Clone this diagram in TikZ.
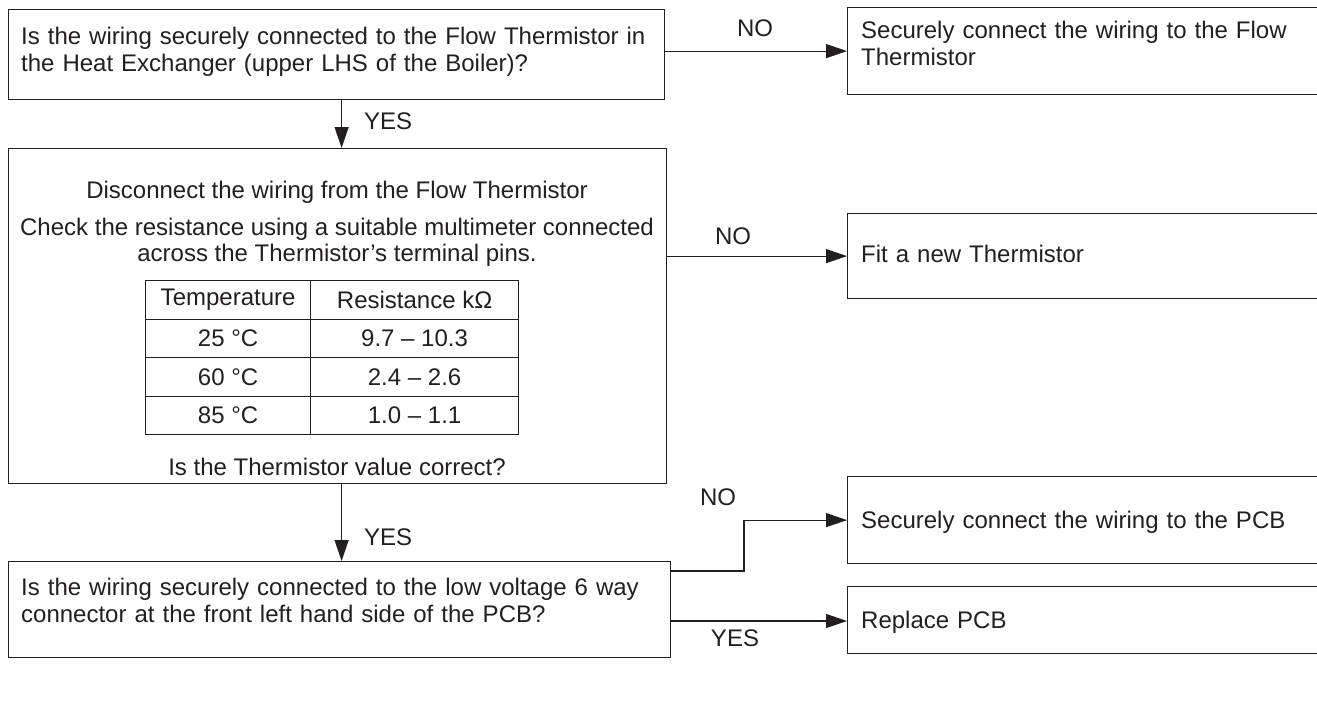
\documentclass[tikz,border=0pt]{standalone}
\usepackage{fontspec}
\setmainfont{Liberation Sans}
\usetikzlibrary{arrows.meta}
\definecolor{ink}{RGB}{35,31,32}
\begin{document}
\begin{tikzpicture}[x=1pt,y=-1pt,
  font=\fontsize{24}{27}\selectfont,
  every node/.style={text=ink},
  box/.style={draw=ink, line width=1.2pt, rectangle, inner sep=0pt, anchor=north west},
  txt/.style={inner sep=0pt, anchor=base west, align=left, text width=#1},
  txt/.default=700pt,
  cell/.style={draw=ink, line width=1.2pt, rectangle, inner sep=0pt, anchor=north west, minimum height=38.5pt},
  line/.style={draw=ink, line width=1.2pt},
  arr/.style={line, -{Triangle[length=21pt,width=14pt]}},
  lbl/.style={inner sep=0pt, anchor=base}]
\useasboundingbox (0,0) rectangle (1317,723);
\clip (0,0) rectangle (1317,723);

% left column
\node[box, minimum width=656pt, minimum height=90pt] (q1) at (8,9) {};
\node[txt] (q1t) at (21,44)
  {Is the wiring securely connected to the Flow Thermistor in\\the Heat Exchanger (upper LHS of the Boiler)?};
\node[box, minimum width=658pt, minimum height=335pt] (chk) at (8,148) {};
\node[lbl] (t1) at (337,198) {Disconnect the wiring from the Flow Thermistor};
\node[lbl] (t2) at (337,235) {Check the resistance using a suitable multimeter connected};
\node[lbl] (t3) at (337,261) {across the Thermistor’s terminal pins.};
\node[lbl] (t4) at (337,475) {Is the Thermistor value correct?};

% table
\node[cell, minimum width=165pt] (c11) at (145,280) {Temperature};
\node[cell, minimum width=208pt] (c12) at (310,280) {Resistance kΩ};
\node[cell, minimum width=165pt] (c21) at (145,318.5) {25 °C};
\node[cell, minimum width=208pt] (c22) at (310,318.5) {9.7 – 10.3};
\node[cell, minimum width=165pt] (c31) at (145,357) {60 °C};
\node[cell, minimum width=208pt] (c32) at (310,357) {2.4 – 2.6};
\node[cell, minimum width=165pt] (c41) at (145,395.5) {85 °C};
\node[cell, minimum width=208pt] (c42) at (310,395.5) {1.0 – 1.1};

\node[box, minimum width=662pt, minimum height=96pt] (q3) at (8,561) {};
\node[txt] (q3t) at (21,595)
  {Is the wiring securely connected to the low voltage 6 way\\connector at the front left hand side of the PCB?};

% right column
\node[box, minimum width=500pt, minimum height=87pt] (r1) at (847,7) {};
\node[txt=440pt] (r1t) at (861,38) {Securely connect the wiring to the Flow\\Thermistor};
\node[box, minimum width=500pt, minimum height=85pt] (r2) at (847,213) {};
\node[txt=440pt] (r2t) at (861,262) {Fit a new Thermistor};
\node[box, minimum width=500pt, minimum height=87pt] (r3) at (847,476) {};
\node[txt=440pt] (r3t) at (861,528) {Securely connect the wiring to the PCB};
\node[box, minimum width=500pt, minimum height=67pt] (r4) at (847,586) {};
\node[txt=440pt] (r4t) at (861,628) {Replace PCB};

% connectors
\draw[arr] ([xshift=5pt]q1.south) -- ([xshift=5pt]q1.south |- chk.north);
\node[lbl, anchor=base west] (y1) at (364,129) {YES};
\draw[arr] ([xshift=4pt]chk.south) -- ([xshift=4pt]chk.south |- q3.north);
\node[lbl, anchor=base west] (y2) at (364,545) {YES};

\draw[arr] (q1.east |- r1.west) -- (r1.west);
\node[lbl] (n1) at (755,36) {NO};
\draw[arr] (chk.east |- r2.west) -- (r2.west);
\node[lbl] (n2) at (733,244) {NO};

\coordinate (k1) at (744,571);
\draw[arr] (q3.east |- k1) -- (k1) |- (r3.west);
\node[lbl] (n3) at (718,505) {NO};
\coordinate (k2) at (847,621);
\draw[arr] (q3.east |- k2) -- (k2);
\node[lbl] (y3) at (735,646) {YES};
\end{tikzpicture}
\end{document}
